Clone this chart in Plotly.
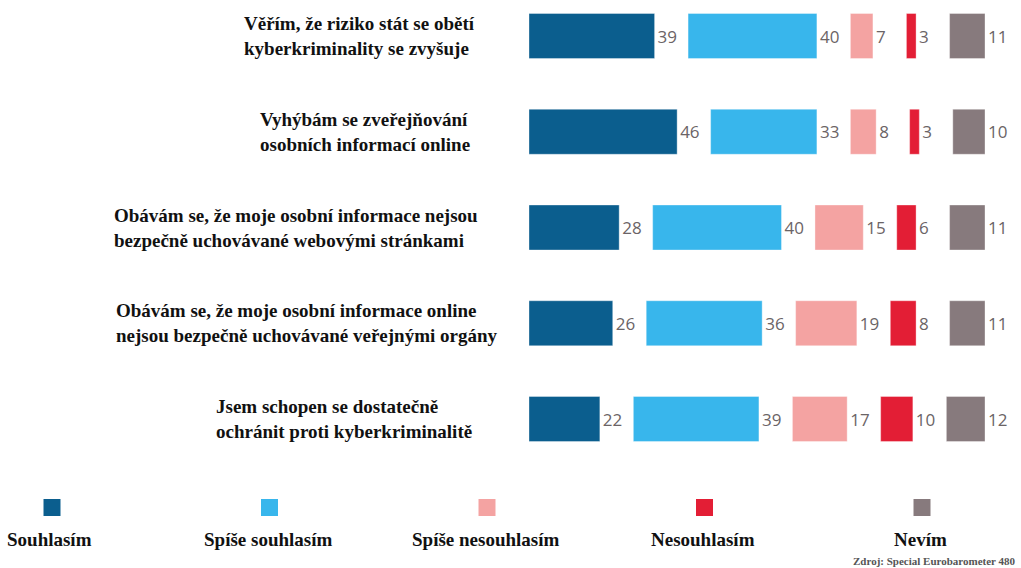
import plotly.graph_objects as go

# ---- data ----
categories = [
    "Věřím, že riziko stát se obětí<br>kyberkriminality se zvyšuje",
    "Vyhýbám se zveřejňování<br>osobních informací online",
    "Obávám se, že moje osobní informace nejsou<br>bezpečně uchovávané webovými stránkami",
    "Obávám se, že moje osobní informace online<br>nejsou bezpečně uchovávané veřejnými orgány",
    "Jsem schopen se dostatečně<br>ochránit proti kyberkriminalitě",
]
series_names = ["Souhlasím", "Spíše souhlasím", "Spíše nesouhlasím", "Nesouhlasím", "Nevím"]
souhlasim = [39, 46, 28, 26, 22]
spise_souhlasim = [40, 33, 40, 36, 39]
spise_nesouhlasim = [7, 8, 15, 19, 17]
nesouhlasim = [3, 3, 6, 8, 10]
nevim = [11, 10, 11, 11, 12]
source = "Zdroj: Special Eurobarometer 480"

series_values = [souhlasim, spise_souhlasim, spise_nesouhlasim, nesouhlasim, nevim]
colors = ["#0b5e8e", "#38b6ec", "#f4a3a2", "#e31e35", "#877a7d"]

# ---- layout constants ----
W, H = 1021, 568
L, R, T, B = 529, 36, 10, 118
GAP = 10.4  # gap between segments, in percent units (room for value label)
xmax = 100 + 4 * GAP
plot_w = W - L - R
plot_h = H - T - B
row_px = 95.75
y_top = -(36 - T) / row_px
y_bot = 4 + (T + plot_h - 419) / row_px
label_right_px = [477, 472, 480, 500, 474]  # right edge of each category label block

SERIF = "Liberation Serif, Times New Roman, serif"

fig = go.Figure()
n = len(categories)
for s, (name, vals, col) in enumerate(zip(series_names, series_values, colors)):
    bases = []
    for r in range(n):
        prev = sum(series_values[k][r] for k in range(s))
        bases.append(prev + s * GAP)
    fig.add_trace(go.Bar(
        y=list(range(n)), x=vals, base=bases, orientation="h", name=name,
        marker=dict(color=col, line=dict(width=1, color="rgba(255,255,255,0.35)")),
        width=0.47,
        text=[str(v) for v in vals], textposition="outside",
        textfont=dict(family="Open Sans, Noto Sans, sans-serif", size=17, color="#6b6466"),
        constraintext="none", cliponaxis=False, showlegend=False,
        hoverinfo="skip",
    ))

# category labels
for r, cat in enumerate(categories):
    fig.add_annotation(
        x=(label_right_px[r] - L) / plot_w, xref="paper", y=r, yref="y",
        text=f"<b>{cat}</b>", showarrow=False, xanchor="right", yanchor="middle",
        align="left", font=dict(family=SERIF, size=19, color="#111"),
    )

# custom legend: swatch above label
for i, (name, col) in enumerate(zip(series_names, colors)):
    cx = 52 + i * 217.5
    fig.add_shape(
        type="rect", xref="paper", yref="paper",
        x0=(cx - 8.5 - L) / plot_w, x1=(cx + 8.5 - L) / plot_w,
        y0=(T + plot_h - 516) / plot_h, y1=(T + plot_h - 499) / plot_h,
        fillcolor=col, line=dict(width=0),
    )
    fig.add_annotation(
        x=(cx - 2 - L) / plot_w, xref="paper", y=(T + plot_h - 539) / plot_h, yref="paper",
        text=f"<b>{name}</b>", showarrow=False, xanchor="center", yanchor="middle",
        font=dict(family=SERIF, size=19, color="#111"),
    )

fig.add_annotation(
    x=(1018 - L) / plot_w, xref="paper", y=(T + plot_h - 561) / plot_h, yref="paper",
    text=f"<b>{source}</b>", showarrow=False, xanchor="right", yanchor="middle",
    font=dict(family=SERIF, size=11, color="#555"),
)

fig.update_layout(
    width=W, height=H, margin=dict(l=L, r=R, t=T, b=B),
    barmode="overlay", plot_bgcolor="white", paper_bgcolor="white",
    xaxis=dict(range=[0, xmax], visible=False, fixedrange=True),
    yaxis=dict(range=[y_bot, y_top], visible=False, fixedrange=True),
    showlegend=False,
)

fig.write_html(
    "out.html",
    config={"displayModeBar": False},
    post_script="document.body.style.margin='0';document.body.style.overflow='hidden';",
)
